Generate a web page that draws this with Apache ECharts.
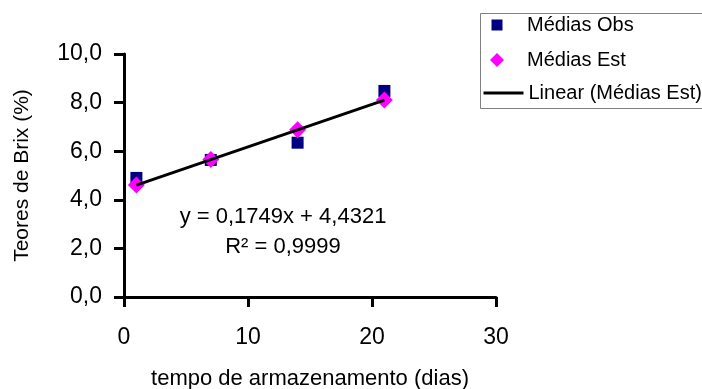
<!DOCTYPE html>
<html>
<head>
<meta charset="utf-8">
<script src="https://cdn.jsdelivr.net/npm/echarts@6/dist/echarts.min.js"></script>
<style>
  html, body { margin: 0; padding: 0; background: #ffffff; }
  #chart { width: 702px; height: 389px; }
</style>
</head>
<body>
<div id="chart"></div>
<script>
// Storage time (days) and Brix readings
const days = [1, 7, 14, 21];
const brixObserved = [4.9, 5.64, 6.35, 8.48];
const brixEstimated = [4.61, 5.66, 6.88, 8.11];

// Fitted trend line (Excel-style linear trendline)
const trendSlope = 0.1749;
const trendIntercept = 4.4321;
const trendR2 = 0.9999;
const trendRange = [1, 21];

// Axis ticks
const yTickValues = [0, 2, 4, 6, 8, 10];
const yTickLabels = ['0,0', '2,0', '4,0', '6,0', '8,0', '10,0'];
const xTickValues = [0, 10, 20, 30];
const xTickLabels = ['0', '10', '20', '30'];

const seriesNames = ['Médias Obs', 'Médias Est', 'Linear (Médias Est)'];
const FONT = 'Liberation Sans, Arial, sans-serif';

const fmt = (v, d) => v.toFixed(d).replace('.', ',');

const obsData = days.map((d, i) => [d, brixObserved[i]]);
const estData = days.map((d, i) => [d, brixEstimated[i]]);
const trendData = trendRange.map(x => [x, trendSlope * x + trendIntercept]);

const chart = echarts.init(document.getElementById('chart'));

const axisCommon = {
  axisLine: { show: true, lineStyle: { color: '#000', width: 3 } },
  axisTick: { show: true, inside: false, length: 10, lineStyle: { color: '#000', width: 3 } },
  splitLine: { show: false },
};

// One legend block per entry so each marker keeps its own size;
// all entry texts start at the same x.
const LEGEND_TEXT_X = 527;
function legendEntry(name, icon, size, width, centerX, centerY, extra) {
  const left = centerX - width / 2;
  return Object.assign({
    orient: 'vertical',
    left: left,
    top: centerY - 11,
    padding: 0,
    itemWidth: width,
    itemHeight: size,
    selectedMode: false,
    textStyle: {
      fontFamily: FONT, fontSize: 20, color: '#000', lineHeight: 22,
      padding: [0, 0, 0, Math.max(0, LEGEND_TEXT_X - (left + width + 5))]
    },
    data: [Object.assign({ name: name, itemStyle: { opacity: 1 } }, icon ? { icon: icon } : {})]
  }, extra || {});
}

chart.setOption({
  animation: false,
  backgroundColor: '#ffffff',
  grid: { left: 124, right: 206, top: 54, bottom: 92, containLabel: false, outerBoundsMode: 'none' },
  xAxis: Object.assign({
    type: 'value',
    min: xTickValues[0],
    max: xTickValues[xTickValues.length - 1],
    interval: 10,
    name: 'tempo de armazenamento (dias)',
    nameLocation: 'middle',
    nameGap: 71,
    nameTextStyle: { fontFamily: FONT, fontSize: 22, color: '#000' },
    axisLabel: {
      margin: 29,
      fontFamily: FONT, fontSize: 23, color: '#000',
      formatter: v => xTickLabels[xTickValues.indexOf(v)]
    }
  }, axisCommon),
  yAxis: Object.assign({
    type: 'value',
    min: yTickValues[0],
    max: yTickValues[yTickValues.length - 1],
    interval: 2,
    name: 'Teores de Brix (%)',
    nameLocation: 'middle',
    nameGap: 91,
    nameRotate: 90,
    nameTextStyle: { fontFamily: FONT, fontSize: 21, color: '#000' },
    axisLabel: {
      margin: 22,
      fontFamily: FONT, fontSize: 23, color: '#000',
      formatter: v => yTickLabels[yTickValues.indexOf(v)]
    }
  }, axisCommon),
  legend: [
    legendEntry(seriesNames[0], 'rect', 11, 11, 497, 25),
    legendEntry(seriesNames[1], 'diamond', 14, 14, 497, 60),
    legendEntry(seriesNames[2], null, 14, 40, 502, 93, {
      data: [{ name: seriesNames[2], itemStyle: { opacity: 0 }, lineStyle: { width: 3 } }]
    })
  ],
  graphic: [
    {
      type: 'rect',
      shape: { x: 480.5, y: 13.5, width: 240, height: 95 },
      style: { fill: 'none', stroke: '#808080', lineWidth: 1 },
      silent: true
    },
    {
      type: 'text',
      x: 283, y: 217,
      style: {
        text: 'y = ' + fmt(trendSlope, 4) + 'x + ' + fmt(trendIntercept, 4),
        font: '22px ' + FONT, fill: '#000',
        align: 'center', verticalAlign: 'middle'
      }
    },
    {
      type: 'text',
      x: 283, y: 247,
      style: {
        text: 'R² = ' + fmt(trendR2, 4),
        font: '22px ' + FONT, fill: '#000',
        align: 'center', verticalAlign: 'middle'
      }
    }
  ],
  series: [
    {
      name: seriesNames[0],
      type: 'scatter',
      symbol: 'rect',
      symbolSize: 12,
      itemStyle: { color: '#000080', opacity: 1 },
      data: obsData
    },
    {
      name: seriesNames[1],
      type: 'scatter',
      symbol: 'diamond',
      symbolSize: 17,
      itemStyle: { color: '#ff00ff', opacity: 1 },
      data: estData
    },
    {
      name: seriesNames[2],
      type: 'line',
      symbol: 'none',
      lineStyle: { color: '#000', width: 3 },
      itemStyle: { color: '#000' },
      data: trendData
    }
  ]
});
</script>
</body>
</html>
